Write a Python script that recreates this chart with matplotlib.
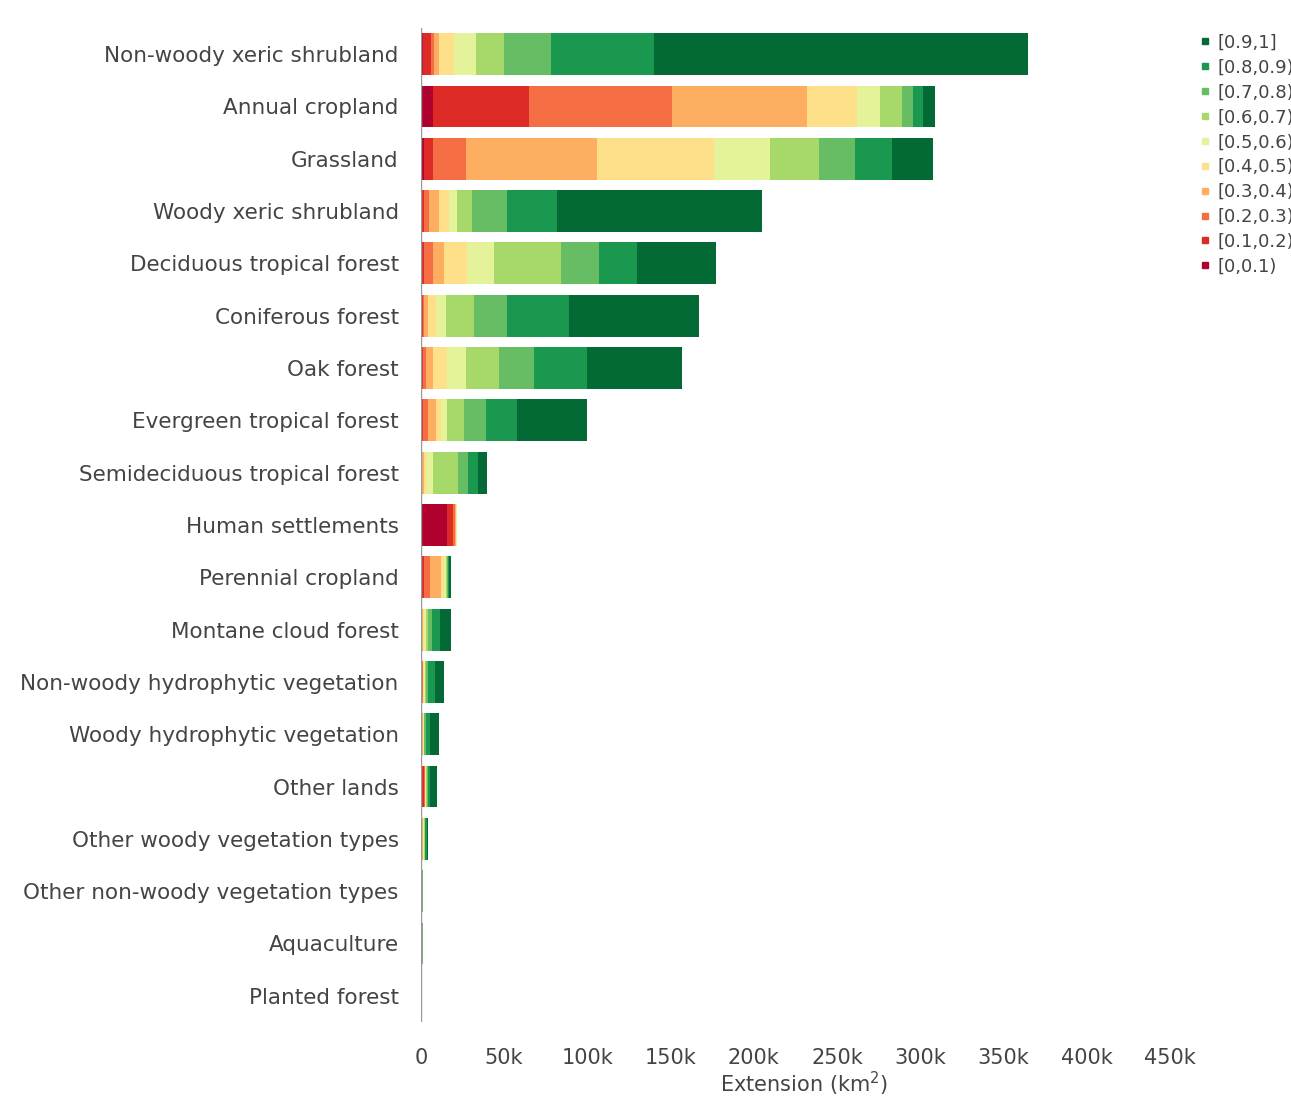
import matplotlib.pyplot as plt
from matplotlib.lines import Line2D
import numpy as np

# land cover classes, top to bottom
classes = ["Non-woody xeric shrubland", "Annual cropland", "Grassland",
           "Woody xeric shrubland", "Deciduous tropical forest", "Coniferous forest",
           "Oak forest", "Evergreen tropical forest", "Semideciduous tropical forest",
           "Human settlements", "Perennial cropland", "Montane cloud forest",
           "Non-woody hydrophytic vegetation", "Woody hydrophytic vegetation",
           "Other lands", "Other woody vegetation types",
           "Other non-woody vegetation types", "Aquaculture", "Planted forest"]

bins = ["[0,0.1)", "[0.1,0.2)", "[0.2,0.3)", "[0.3,0.4)", "[0.4,0.5)",
        "[0.5,0.6)", "[0.6,0.7)", "[0.7,0.8)", "[0.8,0.9)", "[0.9,1]"]

colors = ["#b0002e", "#de2a26", "#f46d43", "#fdae61", "#fee08b",
          "#e4f29a", "#a6d96a", "#66bd63", "#1a9850", "#036a36"]

# extension (thousand km2) per class and bin, in bin order
areas = {
    "Non-woody xeric shrubland":       [1, 5, 2, 3, 9, 13, 17, 28, 62, 225],
    "Annual cropland":                 [7, 58, 86, 81, 30, 14, 13, 7, 6, 7],
    "Grassland":                       [2, 5, 20, 79, 70, 34, 29, 22, 22, 25],
    "Woody xeric shrubland":           [0.5, 1.5, 3, 6, 6, 5, 9, 21, 30, 123],
    "Deciduous tropical forest":       [0.5, 1.5, 5, 7, 14, 16, 40, 23, 23, 47.5],
    "Coniferous forest":               [0.3, 0.7, 1, 2, 5, 6, 17, 20, 37, 78],
    "Oak forest":                      [0.3, 0.7, 2, 4, 9, 11, 20, 21, 32, 57],
    "Evergreen tropical forest":       [0.3, 0.7, 3, 5, 3, 4, 10, 13, 19, 42],
    "Semideciduous tropical forest":   [0.1, 0.3, 0.5, 0.8, 1.5, 4, 15, 6, 6, 5.5],
    "Human settlements":               [16, 3.5, 1, 0.5, 0.3, 0.2, 0.2, 0.1, 0.1, 0.1],
    "Perennial cropland":              [0.4, 1.2, 4, 6.5, 1.7, 1.2, 0.9, 0.5, 0.7, 1.3],
    "Montane cloud forest":            [0.1, 0.2, 0.3, 0.4, 0.8, 1, 1.5, 2.5, 4.5, 7],
    "Non-woody hydrophytic vegetation": [0.2, 0.3, 0.5, 0.5, 0.5, 0.5, 0.8, 1, 4, 5.5],
    "Woody hydrophytic vegetation":    [0.1, 0.2, 0.3, 0.4, 0.3, 0.3, 0.4, 0.8, 2.5, 5.5],
    "Other lands":                     [0.5, 1.5, 0.3, 0.2, 0.3, 0.5, 0.3, 0.5, 1.5, 4],
    "Other woody vegetation types":    [0.1, 0.2, 0.4, 0.4, 0.4, 0.3, 0.4, 0.5, 0.8, 0.7],
    "Other non-woody vegetation types": [0.1, 0.1, 0.1, 0.1, 0.1, 0.1, 0.2, 0.2, 0.3, 0.2],
    "Aquaculture":                     [0.3, 0.3, 0.1, 0.1, 0.05, 0.05, 0.05, 0.05, 0.05, 0.05],
    "Planted forest":                  [0.02, 0.03, 0.05, 0.05, 0.1, 0.1, 0.05, 0.05, 0.03, 0.02],
}

xticks = [0, 50, 100, 150, 200, 250, 300, 350, 400, 450]
xticklabels = ["0", "50k", "100k", "150k", "200k", "250k", "300k", "350k", "400k", "450k"]

data = np.array([areas[c] for c in classes]) * 1000
y = np.arange(len(classes))

fig = plt.figure(figsize=(12.91, 10.97), dpi=100)
ax = fig.add_axes([0.326, 0.0684, 0.593, 0.9061])

left = np.zeros(len(classes))
for j, b in enumerate(bins):
    ax.barh(y, data[:, j], left=left, height=0.8, color=colors[j], linewidth=0)
    left += data[:, j]

ax.axvline(0, color="#999999", lw=1, zorder=3)
ax.set_ylim(len(classes) - 0.5, -0.5)
ax.set_xlim(0, 460000)
ax.set_yticks(y)
ax.set_yticklabels(classes, fontsize=15.5, color="#444444")
ax.set_xticks([t * 1000 for t in xticks])
ax.set_xticklabels(xticklabels, fontsize=15, color="#444444")
ax.tick_params(axis="both", length=0)
ax.tick_params(axis="y", pad=16)
ax.tick_params(axis="x", pad=19)
ax.set_xlabel("Extension (km$^2$)", fontsize=15, color="#444444", labelpad=1)
for s in ax.spines.values():
    s.set_visible(False)

# legend, highest bin first
handles = [Line2D([], [], marker="s", ls="", color=colors[j], markersize=5)
           for j in range(len(bins) - 1, -1, -1)]
labels = [bins[j] for j in range(len(bins) - 1, -1, -1)]
fig.legend(handles, labels, loc="upper left", bbox_to_anchor=(0.914, 0.984),
           frameon=False, fontsize=13, labelcolor="#444444",
           handletextpad=0.2, labelspacing=0.38, handlelength=1.0)

fig.savefig("out.png", dpi=100, facecolor="white")
